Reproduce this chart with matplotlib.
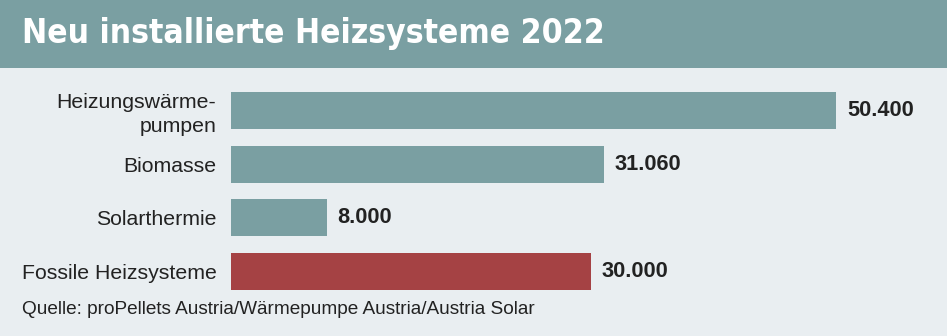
import matplotlib
matplotlib.use("Agg")
import matplotlib.pyplot as plt
from matplotlib.patches import Rectangle
from matplotlib import font_manager
from matplotlib.font_manager import FontProperties

categories = ["Heizungswärme-\npumpen", "Biomasse", "Solarthermie", "Fossile Heizsysteme"]
values = [50400, 31060, 8000, 30000]
value_labels = ["50.400", "31.060", "8.000", "30.000"]
bar_colors = ["#7a9fa2", "#7a9fa2", "#7a9fa2", "#a54244"]
title = "Neu installierte Heizsysteme 2022"
source = "Quelle: proPellets Austria/Wärmepumpe Austria/Austria Solar"

W, H = 947, 336
bg = "#e9eef1"
fig = plt.figure(figsize=(W / 100, H / 100), dpi=100, facecolor=bg)

# look for a condensed bold font
cands = []
for f in font_manager.fontManager.ttflist:
    st = str(f.stretch).lower()
    nm = f.name.lower() + " " + f.fname.lower()
    wt = f.weight if isinstance(f.weight, int) else (700 if "bold" in str(f.weight) else 400)
    if ("condensed" in st or "narrow" in nm or "condensed" in nm) and wt >= 600 \
            and "italic" not in f.style and "oblique" not in nm and "italic" not in nm:
        cands.append(f)
if cands:
    tprop = FontProperties(fname=cands[0].fname)
    tname = cands[0].name
else:
    tprop = FontProperties(family="Liberation Sans", weight="bold")
    tname = "none"

# title bar
fig.patches.append(Rectangle((0, 1 - 68 / H), 1, 68 / H, transform=fig.transFigure,
                             facecolor="#7a9fa2", edgecolor="none", zorder=0))
tt = fig.text(22 / W, 1 - 34 / H, title, color="white", fontproperties=tprop,
              va="center", ha="left")
tt.set_fontsize(32)
r = fig.canvas.get_renderer()
wpx = tt.get_window_extent(r).width
tt.set_fontsize(32 * 585 / wpx)

ax = fig.add_axes([231 / W, 1 - 298.5 / H, 1 - 231 / W, (298.5 - 83.5) / H])
ax.set_facecolor(bg)
y = list(range(len(categories)))
ax.barh(y, values, height=0.69, color=bar_colors, edgecolor="none")
ax.set_xlim(0, 59600)
ax.set_ylim(len(categories) - 0.5, -0.5)
ax.set_yticks(y)
ax.set_yticklabels(categories, fontsize=15.3, family="Liberation Sans", color="#222222",
                   linespacing=1.3)
ax.tick_params(axis="y", length=0, pad=10.5)
ax.set_xticks([])
for s in ax.spines.values():
    s.set_visible(False)
for yi, v, lab in zip(y, values, value_labels):
    ax.annotate(lab, (v, yi), xytext=(7.5, 0), textcoords="offset points",
                va="center", ha="left", fontsize=15.7, fontweight="bold",
                family="Liberation Sans", color="#222222")

fig.text(22 / W, 1 - 310 / H, source, fontsize=13.7, family="Liberation Sans",
         color="#222222", va="center", ha="left")

fig.savefig("out.png", dpi=100, facecolor=bg)
